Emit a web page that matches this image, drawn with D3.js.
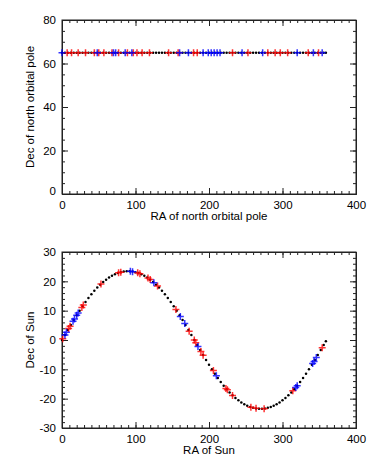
<!DOCTYPE html>
<html>
<head>
<meta charset="utf-8">
<script src="https://cdn.jsdelivr.net/npm/d3@7"></script>
<style>
  body { margin: 0; background: #fff; }
  svg { display: block; font-family: "Liberation Sans", Arial, sans-serif; }
  .axis path, .axis line { stroke: #222; stroke-width: 1; }
  .axis text { font-size: 11.5px; fill: #000; font-family: "Liberation Sans", Arial, sans-serif; }
  .title { font-size: 11.5px; fill: #000; }
</style>
</head>
<body>
<svg id="chart" width="374" height="467"></svg>
<script>
// tick labels
const xTicks = [0, 100, 200, 300, 400]
const poleYTicks = [0, 20, 40, 60, 80]
const sunYTicks = [-30, -20, -10, 0, 10, 20, 30]

// top panel: north orbital pole
const poleDec = 65
const poleDotRA = [0,4,8,12,16,20,24,28,32,36,40,44,48,52,56,60,64,68,72,76,80,84,88,92,96,100,104,108,112,116,120,124,128,132,136,140,144,148,152,156,160,164,168,172,176,180,184,188,192,196,200,204,208,212,216,220,224,228,232,236,240,244,248,252,256,260,264,268,272,276,280,284,288,292,296,300,304,308,312,316,320,324,328,332,336,340,344,348,352,356,359]
const poleRedRA = [7, 13, 22, 32, 44, 50, 57, 68, 77, 89, 97, 102, 109, 119, 145, 158, 179, 184, 232, 253, 280, 290, 297, 307, 335, 349]
const poleBlueRA = [0, 48, 70, 73, 86, 95, 160, 172, 192, 199, 203, 207, 211, 215, 245, 273, 320, 342, 354]

// bottom panel: the Sun
const sunDotRA = [0,4,8,12,16,20,24,28,32,36,40,44,48,52,56,60,64,68,72,76,80,84,88,92,96,100,104,108,112,116,120,124,128,132,136,140,144,148,152,156,160,164,168,172,176,180,184,188,192,196,200,204,208,212,216,220,224,228,232,236,240,244,248,252,256,260,264,268,272,276,280,284,288,292,296,300,304,308,312,316,320,324,328,332,336,340,344,348,352,356,359]
const sunDotDec = [0,1.73,3.45,5.15,6.82,8.44,10.0,11.5,12.94,14.3,15.57,16.76,17.86,18.86,19.77,20.58,21.29,21.9,22.41,22.82,23.12,23.32,23.43,
  23.43,23.32,23.12,22.82,22.41,21.9,21.29,20.58,19.77,18.86,17.86,16.76,15.57,14.3,12.94,11.5,10.0,8.44,6.82,5.15,3.45,1.73,
  0,-1.73,-3.45,-5.15,-6.82,-8.44,-10.0,-11.5,-12.94,-14.3,-15.57,-16.76,-17.86,-18.86,-19.77,-20.58,-21.29,-21.9,-22.41,-22.82,-23.12,-23.32,-23.43,
  -23.43,-23.32,-23.12,-22.82,-22.41,-21.9,-21.29,-20.58,-19.77,-18.86,-17.86,-16.76,-15.57,-14.3,-12.94,-11.5,-10.0,-8.44,-6.82,-5.15,-3.45,-1.73,-0.43]
const sunRedRA = [1, 9, 11, 27, 29, 53, 77, 80, 103, 106, 117, 120, 130, 155, 173, 180, 182, 189, 192, 206, 223, 225, 232, 257, 264, 275, 314, 354]
const sunRedDec = [0.4, 3.9, 4.7, 11.1, 11.9, 19.1, 22.9, 23.1, 22.9, 22.6, 21.1, 20.6, 18.4, 10.4, 3.0, 0, -0.9, -3.9, -5.2, -10.4, -16.5, -17.0, -18.9, -22.9, -23.3, -23.4, -17.3, -2.6]
const sunBlueRA = [4, 6, 15, 17, 20, 22, 93, 96, 125, 161, 167, 185, 210, 318, 320, 341, 343, 346]
const sunBlueDec = [1.7, 2.6, 6.4, 7.2, 8.4, 9.2, 23.4, 23.3, 19.5, 8.0, 5.6, -2.2, -12.2, -16.2, -15.6, -8.0, -7.3, -6.0]

const svg = d3.select("#chart")
const L = 62, R = 356
const plus = "M-3.5,0H3.5M0,-3.5V3.5"
const label = d => String(d)   // plain hyphen minus, like the original

function panel(o) {
  const x = d3.scaleLinear().domain([0, 400]).range([L, R])
  const y = d3.scaleLinear().domain(o.yDomain).range([o.bottom, o.top])
  const g = svg.append("g")

  // minor ticks, all four sides
  const xMinor = d3.range(0, 401, 10)
  const yMinor = d3.range(o.yDomain[0], o.yDomain[1] + 0.01, o.yMinor)
  g.append("g").attr("class", "axis").attr("transform", `translate(0,${o.bottom})`)
    .call(d3.axisBottom(x).tickValues(xMinor).tickSize(-3).tickSizeOuter(0).tickFormat(""))
  g.append("g").attr("class", "axis").attr("transform", `translate(0,${o.top})`)
    .call(d3.axisTop(x).tickValues(xMinor).tickSize(-3).tickSizeOuter(0).tickFormat(""))
  g.append("g").attr("class", "axis").attr("transform", `translate(${L},0)`)
    .call(d3.axisLeft(y).tickValues(yMinor).tickSize(-3).tickSizeOuter(0).tickFormat(""))
  g.append("g").attr("class", "axis").attr("transform", `translate(${R},0)`)
    .call(d3.axisRight(y).tickValues(yMinor).tickSize(-3).tickSizeOuter(0).tickFormat(""))

  // major ticks
  g.append("g").attr("class", "axis").attr("transform", `translate(0,${o.bottom})`)
    .call(d3.axisBottom(x).tickValues(xTicks).tickSize(-6).tickSizeOuter(0).tickPadding(7).tickFormat(label))
  g.append("g").attr("class", "axis").attr("transform", `translate(0,${o.top})`)
    .call(d3.axisTop(x).tickValues(xTicks).tickSize(-6).tickSizeOuter(0).tickFormat(""))
  const yl = g.append("g").attr("class", "axis").attr("transform", `translate(${L},0)`)
    .call(d3.axisLeft(y).tickValues(o.yTicks).tickSize(-6).tickSizeOuter(0).tickPadding(6).tickFormat(label))
  g.append("g").attr("class", "axis").attr("transform", `translate(${R},0)`)
    .call(d3.axisRight(y).tickValues(o.yTicks).tickSize(-6).tickSizeOuter(0).tickFormat(""))
  if (o.lowLabelShift) {
    yl.selectAll(".tick text").filter(d => d === o.yDomain[0]).attr("y", -o.lowLabelShift)
  }

  g.append("rect")
    .attr("x", L).attr("y", o.top)
    .attr("width", R - L).attr("height", o.bottom - o.top)
    .attr("fill", "none").attr("stroke", "#222")

  // data
  g.selectAll("circle.dot").data(o.dotX).enter().append("circle")
    .attr("class", "dot")
    .attr("cx", d => x(d))
    .attr("cy", (d, i) => y(o.dotY(i)))
    .attr("r", 1.25)
    .attr("fill", "#000")

  g.selectAll("path.red").data(o.redX).enter().append("path")
    .attr("class", "red")
    .attr("d", plus)
    .attr("transform", (d, i) => `translate(${x(d)},${y(o.redY(i))})`)
    .attr("stroke", "#f00").attr("stroke-width", 1.5).attr("stroke-opacity", 0.8)

  g.selectAll("path.blue").data(o.blueX).enter().append("path")
    .attr("class", "blue")
    .attr("d", plus)
    .attr("transform", (d, i) => `translate(${x(d)},${y(o.blueY(i))})`)
    .attr("stroke", "#00f").attr("stroke-width", 1.5).attr("stroke-opacity", 0.8)

  // titles
  svg.append("text").attr("class", "title")
    .attr("x", (L + R) / 2).attr("y", o.bottom + 26)
    .attr("text-anchor", "middle")
    .text(o.xTitle)
  svg.append("text").attr("class", "title")
    .attr("transform", `translate(34,${(o.top + o.bottom) / 2}) rotate(-90)`)
    .attr("text-anchor", "middle")
    .text(o.yTitle)
}

panel({
  top: 20, bottom: 194,
  yDomain: [0, 80], yTicks: poleYTicks, yMinor: 5, lowLabelShift: 3,
  dotX: poleDotRA, dotY: () => poleDec,
  redX: poleRedRA, redY: () => poleDec,
  blueX: poleBlueRA, blueY: () => poleDec,
  xTitle: "RA of north orbital pole", yTitle: "Dec of north orbital pole"
})

panel({
  top: 252, bottom: 428,
  yDomain: [-30, 30], yTicks: sunYTicks, yMinor: 2,
  dotX: sunDotRA, dotY: i => sunDotDec[i],
  redX: sunRedRA, redY: i => sunRedDec[i],
  blueX: sunBlueRA, blueY: i => sunBlueDec[i],
  xTitle: "RA of Sun", yTitle: "Dec of Sun"
})
</script>
</body>
</html>
